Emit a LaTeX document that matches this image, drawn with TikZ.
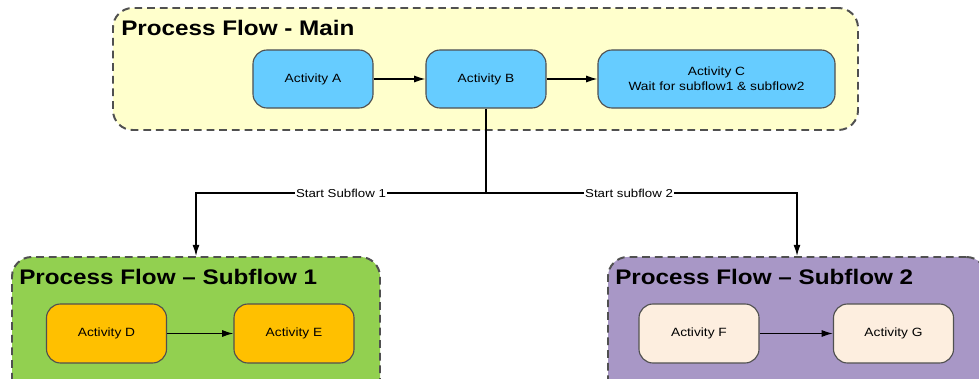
\documentclass[tikz,border=0pt]{standalone}
\usepackage{fontspec}
\setmainfont[FakeStretch=1.15]{Liberation Sans}
\usepackage{tikz}
\usetikzlibrary{arrows.meta}
\usetikzlibrary{fit}
\usetikzlibrary{positioning}

\definecolor{mainbg}{HTML}{FFFFCC}
\definecolor{actblue}{HTML}{66CCFF}
\definecolor{subgreen}{HTML}{92D050}
\definecolor{actorange}{HTML}{FFC000}
\definecolor{subpurple}{HTML}{A897C6}
\definecolor{actpeach}{HTML}{FDEEDF}
\definecolor{edgegray}{HTML}{505050}

\tikzset{
  group/.style={draw=edgegray, line width=1.4pt, dash pattern=on 5.5pt off 3.5pt,
    rounded corners=14pt, inner sep=0pt},
  grouptitle/.style={anchor=base west, inner sep=0pt, font=\fontsize{15}{17}\selectfont\bfseries},
  activity/.style={draw=edgegray, line width=0.8pt, rounded corners=10pt,
    minimum width=3cm, minimum height=1.45cm, align=center, inner sep=1pt,
    font=\fontsize{8.5}{10.5}\selectfont},
  flowlabel/.style={fill=white, inner sep=1pt, font=\fontsize{8.2}{10}\selectfont},
  link/.style={line width=0.9pt},
}

\begin{document}
\begin{tikzpicture}[x=0.025cm, y=-0.025cm, >={Latex[length=8pt, width=5pt]}]
    \clip (0, 0) rectangle (979, 379);
    \fill[white] (0, 0) rectangle (979, 379);

    % containers
    \node[group, fill=mainbg, fit={(113, 8) (858, 130)}] (main) {};
    \node[group, fill=subgreen, fit={(12, 257) (380, 400)}] (sub1) {};
    \node[group, fill=subpurple, fit={(608, 257) (986, 400)}] (sub2) {};

    \node[grouptitle] (mainT) at (121, 36) {Process Flow - Main};
    \node[grouptitle] (sub1T) at (19, 285) {Process Flow – Subflow 1};
    \node[grouptitle] (sub2T) at (615, 285) {Process Flow – Subflow 2};

    % activities
    \node[activity, fill=actblue] (A) at (313, 79) {Activity A};
    \node[activity, fill=actblue] (B) at (486, 79) {Activity B};
    \node[activity, fill=actblue, minimum width=5.925cm] (C) at (716.5, 79)
        {Activity C\\Wait for subflow1 \& subflow2};
    \node[activity, fill=actorange, minimum height=1.475cm] (D) at (106.5, 333.5) {Activity D};
    \node[activity, fill=actorange, minimum height=1.475cm] (E) at (294, 333.5) {Activity E};
    \node[activity, fill=actpeach, minimum height=1.475cm] (F) at (699, 333.5) {Activity F};
    \node[activity, fill=actpeach, minimum height=1.475cm] (G) at (893.5, 333.5) {Activity G};

    \coordinate (split) at (486, 193);

    \draw[->, link] (A) -- (B);
    \draw[->, link] (B) -- (C);
    \draw[->, link] (D) -- (E);
    \draw[->, link] (F) -- (G);

    \draw[link] (B.south) -- (split);
    \draw[->, link] (split) -- node[flowlabel] {Start Subflow 1}
        (split -| sub1.north) -- (sub1.north);
    \draw[->, link] (split) -- node[flowlabel, pos=0.46] {Start subflow 2}
        (split -| sub2.north) -- (sub2.north);

  \end{tikzpicture}
\end{document}
